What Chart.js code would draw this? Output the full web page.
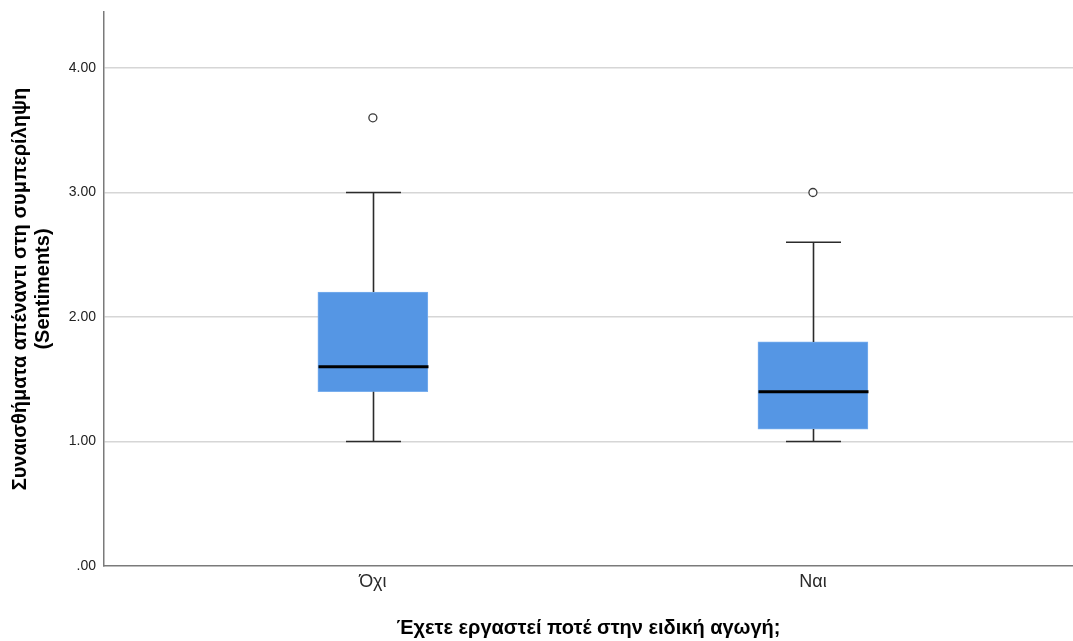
<!DOCTYPE html>
<html>
<head>
<meta charset="utf-8">
<script src="https://cdn.jsdelivr.net/npm/chart.js@4.4.1/dist/chart.umd.min.js"></script>
<style>
  html, body { margin: 0; padding: 0; background: #ffffff; }
  #wrap { width: 1073px; height: 641px; }
</style>
</head>
<body>
<div id="wrap"><canvas id="c" width="1073" height="641"></canvas></div>
<script>
// Groups and five-number summaries per group
const categories = ['Όχι', 'Ναι'];
const groupPositions = [1, 2];
const whiskerLow = [1.0, 1.0];
const quartile1 = [1.4, 1.1];
const medians = [1.6, 1.4];
const quartile3 = [2.2, 1.8];
const whiskerHigh = [3.0, 2.6];
const outlierValues = [[3.6], [3.0]];
const yTickValues = [0, 1, 2, 3, 4];

const FONT = "'Liberation Sans', Arial, sans-serif";
const BOX_WIDTH = 110;

const boxData = groupPositions.map((x, i) => ({ x: x, y: [quartile1[i], quartile3[i]] }));
const outlierData = [];
groupPositions.forEach((x, i) => outlierValues[i].forEach(v => outlierData.push({ x: x, y: v })));

// Whiskers, caps and median lines, positioned through the chart scales
const boxplotLines = {
  id: 'boxplotLines',
  afterDatasetsDraw(chart) {
    const ctx = chart.ctx;
    const xs = chart.scales.x, ys = chart.scales.y;
    ctx.save();
    groupPositions.forEach((pos, i) => {
      const cx = Math.round(xs.getPixelForValue(pos)) + 0.5;
      const capHalf = BOX_WIDTH / 4;
      const yLow = ys.getPixelForValue(whiskerLow[i]);
      const yQ1 = ys.getPixelForValue(quartile1[i]);
      const yQ3 = ys.getPixelForValue(quartile3[i]);
      const yHigh = ys.getPixelForValue(whiskerHigh[i]);
      ctx.strokeStyle = '#2b2b2b';
      ctx.lineWidth = 1.6;
      ctx.beginPath();
      ctx.moveTo(cx, yQ3); ctx.lineTo(cx, yHigh);
      ctx.moveTo(cx - capHalf, yHigh); ctx.lineTo(cx + capHalf, yHigh);
      ctx.moveTo(cx, yQ1); ctx.lineTo(cx, yLow);
      ctx.moveTo(cx - capHalf, yLow); ctx.lineTo(cx + capHalf, yLow);
      ctx.stroke();
      const yMed = ys.getPixelForValue(medians[i]);
      ctx.strokeStyle = '#000000';
      ctx.lineWidth = 3;
      ctx.beginPath();
      ctx.moveTo(cx - BOX_WIDTH / 2, yMed); ctx.lineTo(cx + BOX_WIDTH / 2, yMed);
      ctx.stroke();
    });
    ctx.restore();
  }
};

new Chart(document.getElementById('c'), {
  type: 'bar',
  data: {
    datasets: [
      {
        type: 'bar',
        data: boxData,
        backgroundColor: '#5596e4',
        borderColor: '#78aeee',
        borderWidth: 1,
        borderSkipped: false,
        barThickness: BOX_WIDTH,
        order: 2
      },
      {
        type: 'scatter',
        data: outlierData,
        pointRadius: 4,
        pointHoverRadius: 4,
        pointBackgroundColor: '#ffffff',
        pointBorderColor: '#3a3a3a',
        pointBorderWidth: 1.3,
        order: 1
      }
    ]
  },
  options: {
    responsive: false,
    animation: false,
    layout: { autoPadding: false, padding: { top: 12, left: 0, right: 0, bottom: 0 } },
    plugins: { legend: { display: false }, tooltip: { enabled: false } },
    scales: {
      x: {
        type: 'linear',
        offset: false,
        min: 0.389,
        max: 2.591,
        afterBuildTicks(scale) { scale.ticks = groupPositions.map(v => ({ value: v })); },
        afterFit(scale) { scale.height = 75; scale.paddingLeft = 0; scale.paddingRight = 0; },
        grid: { display: false, drawTicks: false, offset: false },
        border: { display: true, color: '#7a7a7a', width: 1.5 },
        ticks: {
          padding: 5,
          autoSkip: false,
          maxRotation: 0,
          color: '#2a2a2a',
          font: { family: FONT, size: 18 },
          callback(v) { const i = groupPositions.indexOf(v); return i >= 0 ? categories[i] : ''; }
        },
        title: {
          display: true,
          text: 'Έχετε εργαστεί ποτέ στην ειδική αγωγή;',
          color: '#000000',
          font: { family: FONT, size: 20, weight: 'bold', lineHeight: 1.2 },
          padding: { top: 0, bottom: 1 }
        }
      },
      y: {
        type: 'linear',
        min: 0,
        max: 4.45,
        afterBuildTicks(scale) { scale.ticks = yTickValues.map(v => ({ value: v })); },
        afterFit(scale) { scale.width = 104; scale.paddingTop = 0; scale.paddingBottom = 0; },
        grid: {
          drawTicks: false,
          color(ctx) { return ctx.tick && ctx.tick.value === 0 ? 'rgba(0,0,0,0)' : '#d6d6d6'; },
          lineWidth: 1.5
        },
        border: { display: true, color: '#7a7a7a', width: 1.5 },
        ticks: {
          padding: 8,
          color: '#222222',
          font: { family: FONT, size: 14 },
          callback(v) { return v === 0 ? '.00' : v.toFixed(2); }
        },
        title: {
          display: true,
          text: ['Συναισθήματα απέναντι στη συμπερίληψη', '(Sentiments)'],
          color: '#000000',
          font: { family: FONT, size: 20, weight: 'bold', lineHeight: 1.15 },
          padding: { top: 9, bottom: 0 }
        }
      }
    }
  },
  plugins: [boxplotLines]
});
</script>
</body>
</html>
